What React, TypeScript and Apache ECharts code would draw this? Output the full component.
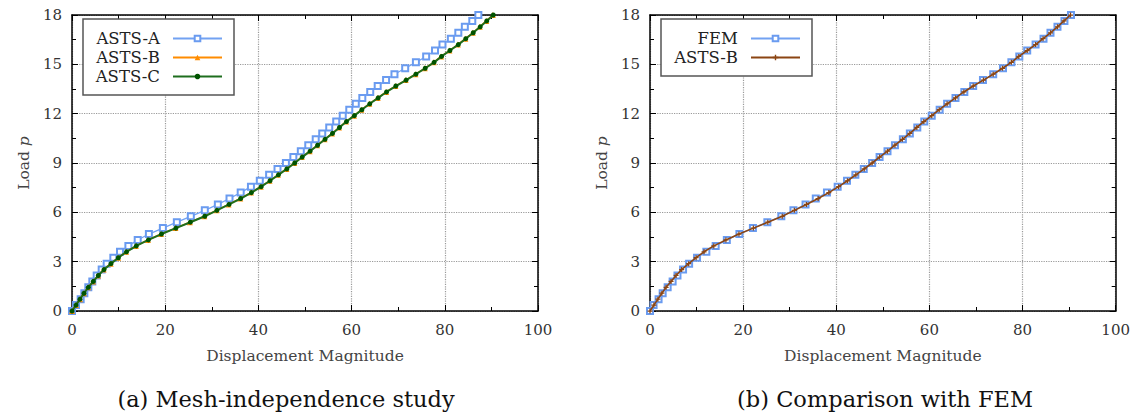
import React, { useEffect, useRef } from "react";
import * as echarts from "echarts";

// Load levels (y) shared by every series
const loads = [0, 0.36, 0.72, 1.08, 1.44, 1.8, 2.16, 2.52, 2.88, 3.24, 3.6, 3.96, 4.32, 4.68, 5.04, 5.4, 5.76, 6.12, 6.48, 6.84, 7.2, 7.56, 7.92, 8.28, 8.64, 9.0, 9.36, 9.72, 10.08, 10.44, 10.8, 11.16, 11.52, 11.88, 12.24, 12.6, 12.96, 13.32, 13.68, 14.04, 14.4, 14.76, 15.12, 15.48, 15.84, 16.2, 16.56, 16.92, 17.28, 17.64, 18];

// Displacement magnitudes (x)
const astsA = [0, 0.86, 1.86, 2.65, 3.5, 4.36, 5.3, 6.37, 7.44, 8.87, 10.3, 12.1, 14.1, 16.5, 19.5, 22.5, 25.5, 28.5, 31.3, 33.8, 36.2, 38.4, 40.3, 42.3, 44.1, 45.9, 47.5, 49.1, 50.7, 52.3, 53.7, 55.2, 56.7, 58.1, 59.5, 60.9, 62.3, 64.0, 65.6, 67.4, 69.2, 71.5, 73.8, 76.0, 77.9, 79.5, 81.3, 82.9, 84.3, 85.9, 87.2];
const astsB = [0, 0.84, 1.7, 2.55, 3.46, 4.52, 5.6, 6.8, 8.3, 9.9, 11.6, 13.7, 16.3, 19.1, 22.2, 25.3, 28.4, 31.0, 33.6, 36.1, 38.4, 40.5, 42.4, 44.2, 46.0, 47.7, 49.3, 51.0, 52.6, 54.2, 55.8, 57.3, 58.8, 60.5, 62.1, 63.8, 65.6, 67.4, 69.4, 71.6, 73.7, 75.7, 77.6, 79.2, 81.0, 82.8, 84.4, 86.0, 87.5, 88.9, 90.3];
const astsC = [0, 0.86, 1.72, 2.58, 3.5, 4.58, 5.65, 6.87, 8.37, 9.95, 11.7, 13.8, 16.4, 19.2, 22.3, 25.4, 28.5, 31.1, 33.7, 36.2, 38.5, 40.6, 42.5, 44.3, 46.1, 47.8, 49.4, 51.1, 52.7, 54.3, 55.9, 57.4, 58.9, 60.6, 62.2, 63.9, 65.7, 67.5, 69.5, 71.7, 73.8, 75.8, 77.7, 79.3, 81.1, 82.9, 84.5, 86.1, 87.6, 89.0, 90.4];
const fem = [0, 0.77, 1.84, 2.72, 3.79, 4.86, 5.9, 7.1, 8.4, 10.1, 12.1, 14.1, 16.5, 19.2, 22.1, 25.2, 28.2, 30.8, 33.4, 35.6, 38.0, 40.3, 42.3, 44.1, 45.9, 47.7, 49.3, 51.0, 52.6, 54.3, 55.8, 57.4, 58.9, 60.5, 62.2, 63.8, 65.6, 67.5, 69.4, 71.5, 73.7, 75.8, 77.6, 79.3, 81.0, 82.8, 84.5, 86.0, 87.5, 89.0, 90.4];

const xTicks = { min: 0, max: 100, interval: 20 };
const yTicks = { min: 0, max: 18, interval: 3 };
const captions = ["(a) Mesh-independence study", "(b) Comparison with FEM"];
const xName = "Displacement Magnitude";

const FONT = "DejaVu Serif";
const pairs = (xs: number[]) => xs.map((x, i) => [x, loads[i]]);

function buildOption() {
  const grids = [
    { left: 72, top: 15, width: 466, height: 296 },
    { left: 650, top: 15, width: 466, height: 296 },
  ];
  const axisLine = { show: true, onZero: false, lineStyle: { color: "#000", width: 1.5 } };
  const tick = { show: true, inside: true, length: 6, lineStyle: { color: "#000", width: 1 } };
  const minor = { show: true, splitNumber: 2, length: 4, lineStyle: { color: "#000", width: 1 } };
  const split = { show: true, lineStyle: { type: "dotted", color: "#9a9a9a", width: 1.2 } };
  const xAxis: any[] = [];
  const yAxis: any[] = [];
  [0, 1].forEach((g) => {
    xAxis.push({
      type: "value", gridIndex: g, ...xTicks, position: "bottom",
      axisLine, axisTick: tick, minorTick: minor, splitLine: split,
      axisLabel: { margin: 11, fontFamily: FONT, fontSize: 15, color: "#333" },
      name: xName, nameLocation: "middle", nameGap: 37,
      nameTextStyle: { fontFamily: FONT, fontSize: 15.5, color: "#444" },
    });
    xAxis.push({
      type: "value", gridIndex: g, ...xTicks, position: "top",
      axisLine, axisTick: tick, minorTick: minor, splitLine: { show: false },
      axisLabel: { show: false },
    });
    yAxis.push({
      type: "value", gridIndex: g, ...yTicks, position: "left",
      axisLine, axisTick: tick, minorTick: minor, splitLine: split,
      axisLabel: { margin: 10, fontFamily: FONT, fontSize: 15, color: "#333" },
      name: "{a|Load }{b|p}", nameLocation: "middle", nameGap: 40,
      nameTextStyle: {
        color: "#444",
        rich: {
          a: { fontFamily: FONT, fontSize: 15.5, color: "#444" },
          b: { fontFamily: FONT, fontSize: 15.5, fontStyle: "italic", color: "#444" },
        },
      },
    });
    yAxis.push({
      type: "value", gridIndex: g, ...yTicks, position: "right",
      axisLine, axisTick: tick, minorTick: minor, splitLine: { show: false },
      axisLabel: { show: false },
    });
  });

  const mk = (name: string, xs: number[], g: number, color: string, lw: number, symbol: string, size: number, symColor: string, z: number) => ({
    type: "line", name, data: pairs(xs), xAxisIndex: g * 2, yAxisIndex: g * 2,
    symbol, symbolSize: size, showSymbol: true, showAllSymbol: true,
    lineStyle: { color, width: lw },
    itemStyle: { color: symColor, borderColor: symColor, borderWidth: symbol === "emptyRect" ? 1.2 : 0 },
    z,
  });
  const plus = "path://M3,0H5V3H8V5H5V8H3V5H0V3H3Z";

  const series = [
    mk("ASTS-A", astsA, 0, "#72a2f2", 1.3, "emptyRect", 6, "#6a9bf0", 2),
    mk("ASTS-B", astsB, 0, "#ff8c00", 1.5, "triangle", 6, "#ff8c00", 3),
    mk("ASTS-C", astsC, 0, "#1e6e1e", 2, "circle", 5, "#005400", 4),
    mk("FEM", fem, 1, "#72a2f2", 1.3, "emptyRect", 6, "#6a9bf0", 2),
    mk("ASTS-B (b)", astsB, 1, "#8b4513", 1.6, plus, 5, "#8b4513", 3),
  ];

  const legendBase = {
    orient: "vertical", top: 19, itemWidth: 49, itemHeight: 7, itemGap: 0,
    padding: [10, 11, 9, 5], borderColor: "#555", borderWidth: 1.5, backgroundColor: "#fff",
    align: "right", selectedMode: false,
    formatter: (n: string) => (n === "ASTS-B (b)" ? "ASTS-B" : n),
    textStyle: { fontFamily: FONT, fontSize: 16.5, color: "#222", width: 72, align: "right", padding: [0, 8, 0, 0], lineHeight: 19 },
  };

  return {
    animation: false,
    grid: grids,
    xAxis, yAxis, series,
    legend: [
      { ...legendBase, left: 83, data: ["ASTS-A", "ASTS-B", "ASTS-C"] },
      { ...legendBase, left: 661, data: ["FEM", "ASTS-B (b)"] },
    ],
    graphic: [
      { type: "text", x: 286, y: 399, style: { text: captions[0], fontFamily: FONT, fontSize: 22.5, fill: "#111", align: "center", verticalAlign: "middle" } },
      { type: "text", x: 885, y: 399, style: { text: captions[1], fontFamily: FONT, fontSize: 22.5, fill: "#111", align: "center", verticalAlign: "middle" } },
    ],
  };
}

export default function App() {
  const ref = useRef<HTMLDivElement>(null);
  useEffect(() => {
    if (!ref.current) return;
    const chart = echarts.init(ref.current, null, { renderer: "svg" });
    chart.setOption(buildOption() as any);
    return () => chart.dispose();
  }, []);
  return <div ref={ref} style={{ position: "absolute", left: 0, top: 0, width: 1133, height: 419, background: "#fff" }} />;
}
